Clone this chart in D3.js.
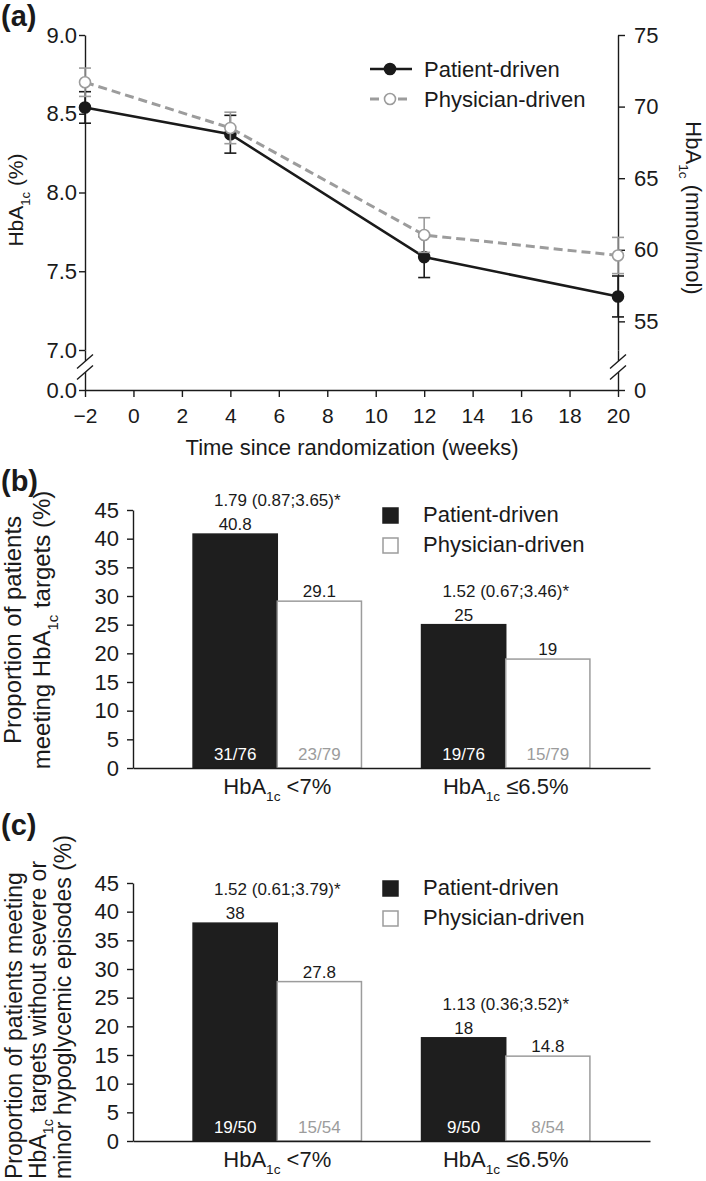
<!DOCTYPE html>
<html>
<head>
<meta charset="utf-8">
<script src="https://cdn.jsdelivr.net/npm/d3@7"></script>
<style>
  body { margin: 0; background: #fff; }
  svg { display: block; font-family: "Liberation Sans", Arial, Helvetica, sans-serif; }
</style>
</head>
<body>
<svg id="chart" width="706" height="1181"></svg>
<script>
// (a) HbA1c over time
const weeks = [-2, 4, 12, 20];
const patientMean = [8.54, 8.37, 7.59, 7.34];
const patientErr = [0.10, 0.12, 0.13, 0.13];
const physicianMean = [8.70, 8.41, 7.73, 7.60];
const physicianErr = [0.09, 0.10, 0.11, 0.115];
const weekTicks = [-2, 0, 2, 4, 6, 8, 10, 12, 14, 16, 18, 20];
const pctTicks = [7.0, 7.5, 8.0, 8.5, 9.0];
const mmolTicks = [55, 60, 65, 70, 75];

// (b) and (c) proportions
const targets = ["<7%", "≤6.5%"];
const groups = ["Patient-driven", "Physician-driven"];
const metPct = [[40.8, 29.1], [25, 19]];
const metCounts = [["31/76", "23/79"], ["19/76", "15/79"]];
const metOR = ["1.79 (0.87;3.65)*", "1.52 (0.67;3.46)*"];
const safePct = [[38, 27.8], [18, 14.8]];
const safeCounts = [["19/50", "15/54"], ["9/50", "8/54"]];
const safeOR = ["1.52 (0.61;3.79)*", "1.13 (0.36;3.52)*"];
const pctAxisTicks = [0, 5, 10, 15, 20, 25, 30, 35, 40, 45];

const INK = '#1a1a1a', GREY = '#9c9c9c', BAR = '#1e1e1e';
const svg = d3.select('#chart');

function styleAxis(g, size = 21) {
  g.attr('font-size', size).attr('font-family', null);
  g.selectAll('text').attr('fill', INK);
  g.selectAll('line, path').attr('stroke', INK).attr('stroke-width', 1.4);
}

// "HbA" + subscript "1c" + rest
function hbaText(sel, before, after, size) {
  if (before) sel.append('tspan').text(before);
  sel.append('tspan').text('HbA');
  sel.append('tspan').attr('font-size', size * 0.62).attr('dy', size * 0.32).text('1c');
  sel.append('tspan').attr('dy', -size * 0.32).text(after);
}

function axisBreak(g, cx, cy) {
  const h = 5.5, w = 8, s = 7;
  g.append('polygon')
    .attr('points', [[cx - w, cy - h + s], [cx + w, cy - h - s], [cx + w, cy + h - s], [cx - w, cy + h + s]].join(' '))
    .attr('fill', '#fff');
  [-h, h].forEach(d => g.append('line')
    .attr('x1', cx - w).attr('y1', cy + d + s)
    .attr('x2', cx + w).attr('y2', cy + d - s)
    .attr('stroke', INK).attr('stroke-width', 1.4));
}

function panelLabel(txt, y) {
  svg.append('text').attr('x', 1).attr('y', y)
    .attr('font-size', 29).attr('font-weight', 'bold').attr('fill', INK).text(txt);
}

// ---------- panel (a) ----------
const a = svg.append('g');
const x = d3.scaleLinear().domain([-2, 20]).range([85, 618]);
const y = d3.scaleLinear().domain([7, 9]).range([350, 35]);
const yR = d3.scaleLinear().domain([53, 75]).range([350, 35]);
const yBreak = d3.scaleLinear().domain([0, 7]).range([390, 350]);

a.append('g').attr('transform', 'translate(85,0)')
  .call(d3.axisLeft(y).tickValues(pctTicks).tickFormat(d3.format('.1f')).tickSize(6).tickPadding(2).tickSizeOuter(0))
  .call(styleAxis, 22);
a.append('g').attr('transform', 'translate(85,0)')
  .call(d3.axisLeft(yBreak).tickValues([0]).tickFormat(d3.format('.1f')).tickSize(6).tickPadding(2).tickSizeOuter(0))
  .call(styleAxis, 22);
a.append('g').attr('transform', 'translate(618,0)')
  .call(d3.axisRight(yR).tickValues(mmolTicks).tickSize(7).tickPadding(9).tickSizeOuter(0))
  .call(styleAxis, 22);
a.append('g').attr('transform', 'translate(618,0)')
  .call(d3.axisRight(d3.scaleLinear().domain([0, 53]).range([390, 350])).tickValues([0]).tickSize(7).tickPadding(9).tickSizeOuter(0))
  .call(styleAxis, 22);
a.append('g').attr('transform', 'translate(0,390)')
  .call(d3.axisBottom(x).tickValues(weekTicks).tickSize(7).tickPadding(11).tickSizeOuter(0))
  .call(styleAxis, 21);

axisBreak(a, 85, 367);
axisBreak(a, 618, 367);

a.append('text').attr('x', 352).attr('y', 455).attr('text-anchor', 'middle')
  .attr('font-size', 22).attr('fill', INK).text('Time since randomization (weeks)');
a.append('text').attr('transform', 'translate(23,200) rotate(-90)').attr('text-anchor', 'middle')
  .attr('font-size', 21).attr('fill', INK).call(hbaText, '', ' (%)', 21);
a.append('text').attr('transform', 'translate(686,208) rotate(90)').attr('text-anchor', 'middle')
  .attr('font-size', 22).attr('fill', INK).call(hbaText, '', ' (mmol/mol)', 22);

const series = [
  { name: groups[0], mean: patientMean, err: patientErr, color: INK, dash: null, fill: INK, width: 2.6 },
  { name: groups[1], mean: physicianMean, err: physicianErr, color: GREY, dash: '9,5', fill: '#fff', width: 3 }
];
const line = d3.line().x(d => x(d.week)).y(d => y(d.mean));

series.forEach(s => {
  const pts = weeks.map((w, i) => ({ week: w, mean: s.mean[i], err: s.err[i] }));
  const eb = a.append('g').selectAll('g').data(pts).join('g')
    .attr('stroke', s.color).attr('stroke-width', 1.6);
  eb.append('line').attr('x1', d => x(d.week)).attr('x2', d => x(d.week))
    .attr('y1', d => y(d.mean - d.err)).attr('y2', d => y(d.mean + d.err));
  [-1, 1].forEach(k => eb.append('line')
    .attr('x1', d => x(d.week) - 6).attr('x2', d => x(d.week) + 6)
    .attr('y1', d => y(d.mean + k * d.err)).attr('y2', d => y(d.mean + k * d.err)));
  a.append('path').datum(pts).attr('d', line).attr('fill', 'none')
    .attr('stroke', s.color).attr('stroke-width', s.width).attr('stroke-dasharray', s.dash);
  a.append('g').selectAll('circle').data(pts).join('circle')
    .attr('cx', d => x(d.week)).attr('cy', d => y(d.mean)).attr('r', 5.5)
    .attr('fill', s.fill).attr('stroke', s.color).attr('stroke-width', 1.6);
});

const legA = a.append('g').selectAll('g').data(series).join('g')
  .attr('transform', (d, i) => `translate(370,${69 + i * 30})`);
legA.append('line').attr('x1', 0).attr('x2', 42)
  .attr('stroke', d => d.color).attr('stroke-width', d => d.width).attr('stroke-dasharray', d => d.dash);
legA.append('circle').attr('cx', 20).attr('r', 5.5)
  .attr('fill', d => d.fill).attr('stroke', d => d.color).attr('stroke-width', 1.6);
legA.append('text').attr('x', 54).attr('y', 8).attr('font-size', 22).attr('fill', INK).text(d => d.name);

panelLabel('(a)', 26);

// ---------- panels (b), (c) ----------
function barPanel(opts) {
  const { top, values, counts, ors, titleLines, titleSize, titleX, titleY, titleAnchor } = opts;
  const g = svg.append('g');
  const yb = d3.scaleLinear().domain([0, 45]).range([top + 258, top]);
  const xb = d3.scaleBand().domain(targets).range([133, 650]).paddingInner(0.263).paddingOuter(0.263);
  const xs = d3.scaleBand().domain(groups).range([0, xb.bandwidth()]);

  const rows = targets.flatMap((t, i) => groups.map((s, j) => ({ t, s, v: values[i][j], n: counts[i][j] })));

  g.append('g').attr('transform', 'translate(133,0)')
    .call(d3.axisLeft(yb).tickValues(pctAxisTicks).tickSize(6).tickPadding(8).tickSizeOuter(0))
    .call(styleAxis, 22);

  g.append('g').selectAll('rect').data(rows).join('rect')
    .attr('x', d => xb(d.t) + xs(d.s)).attr('width', xs.bandwidth())
    .attr('y', d => yb(d.v)).attr('height', d => yb(0) - yb(d.v))
    .attr('fill', d => d.s === groups[0] ? BAR : '#fff')
    .attr('stroke', d => d.s === groups[0] ? BAR : GREY)
    .attr('stroke-width', 1.5);

  g.append('g').attr('transform', `translate(0,${yb(0)})`)
    .call(d3.axisBottom(xb).tickSize(0).tickFormat(''))
    .call(styleAxis);

  const cx = d => xb(d.t) + xs(d.s) + xs.bandwidth() / 2;
  g.append('g').selectAll('text').data(rows).join('text')
    .attr('x', cx).attr('y', d => yb(d.v) - 4).attr('text-anchor', 'middle')
    .attr('font-size', 17).attr('fill', INK).text(d => d.v);
  g.append('g').selectAll('text').data(rows).join('text')
    .attr('x', cx).attr('y', yb(0) - 8).attr('text-anchor', 'middle')
    .attr('font-size', 17).attr('fill', d => d.s === groups[0] ? '#fff' : GREY).text(d => d.n);
  g.append('g').selectAll('text').data(targets).join('text')
    .attr('x', t => xb(t) + xb.bandwidth() / 2).attr('y', (t, i) => yb(values[i][0]) - 28)
    .attr('text-anchor', 'middle').attr('font-size', 17).attr('fill', INK).text((t, i) => ors[i]);

  g.append('g').selectAll('text').data(targets).join('text')
    .attr('x', t => xb(t) + xb.bandwidth() / 2).attr('y', yb(0) + 26)
    .attr('text-anchor', 'middle').attr('font-size', 22).attr('fill', INK)
    .each(function (t) { d3.select(this).call(hbaText, '', ' ' + t, 22); });

  const leg = g.append('g').selectAll('g').data(groups).join('g')
    .attr('transform', (d, i) => `translate(383,${top - 2 + i * 30})`);
  leg.append('rect').attr('width', 15).attr('height', 15)
    .attr('fill', (d, i) => i ? '#fff' : BAR).attr('stroke', (d, i) => i ? GREY : BAR).attr('stroke-width', 1.5);
  leg.append('text').attr('x', 40).attr('y', 14).attr('font-size', 22).attr('fill', INK).text(d => d);

  titleLines.forEach((ln, i) => {
    const t = g.append('text').attr('transform', `translate(${titleX[i]},${titleY}) rotate(-90)`)
      .attr('text-anchor', titleAnchor).attr('font-size', titleSize).attr('fill', INK);
    if (ln.hba) t.call(hbaText, ln.before, ln.after, titleSize);
    else t.text(ln.text);
  });
}

barPanel({
  top: 510, values: metPct, counts: metCounts, ors: metOR,
  titleLines: [{ text: 'Proportion of patients' }, { hba: true, before: 'meeting ', after: ' targets (%)' }],
  titleSize: 24, titleX: [21, 50], titleY: 630, titleAnchor: 'middle'
});
panelLabel('(b)', 491);

barPanel({
  top: 883, values: safePct, counts: safeCounts, ors: safeOR,
  titleLines: [
    { text: 'Proportion of patients meeting' },
    { hba: true, before: '', after: ' targets without severe or' },
    { text: 'minor hypoglycemic episodes (%)' }
  ],
  titleSize: 23, titleX: [22, 46, 71], titleY: 1179, titleAnchor: 'start'
});
panelLabel('(c)', 835);
</script>
</body>
</html>
